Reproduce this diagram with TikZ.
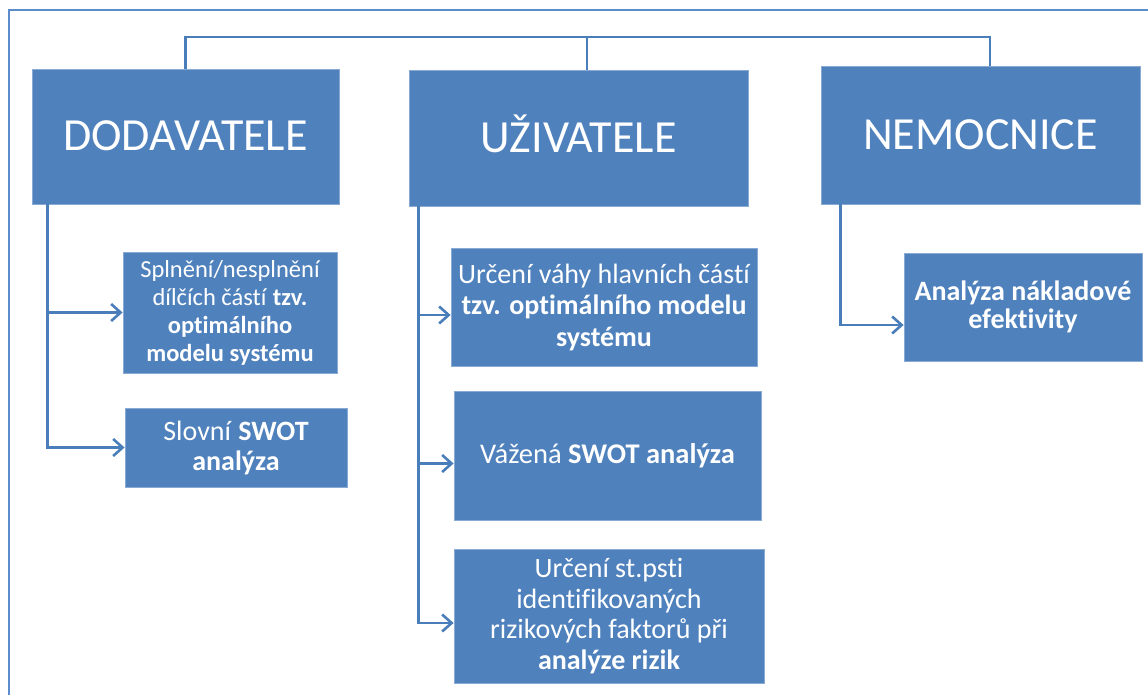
\documentclass[tikz,border=0pt]{standalone}
\usepackage{fontspec}
\setmainfont{Carlito}[Ligatures={NoCommon}]
\usetikzlibrary{arrows.meta}
\definecolor{boxblue}{HTML}{4F81BD}
\definecolor{boxedge}{HTML}{8AAAD6}
\definecolor{linkblue}{HTML}{4A7EBB}
\definecolor{framecol}{HTML}{5B8CCB}
\tikzset{
  box/.style={rectangle, fill=boxblue, draw=boxedge, line width=0.8pt, text=white, inner sep=0pt, align=center},
  hdr/.style={box, font=\fontsize{46pt}{52pt}\selectfont, text height=29pt, text depth=0pt},
  conn/.style={draw=linkblue, line width=2.6pt},
  arr/.style={conn, -{Straight Barb[length=9.5pt,width=17pt,line width=2.6pt]}},
}
\begin{document}
\begin{tikzpicture}[x=1pt,y=-1pt]
\useasboundingbox (0,0) rectangle (1148,695);
\draw[framecol, line width=2pt] (9,700) |- (1153,10);
% headers
\node[hdr, minimum width=307pt, minimum height=135pt] (dod) at (185.5,136.5) {DODAVATELE};
\node[hdr, minimum width=339pt, minimum height=136pt] (uzi) at (578.5,138) {UŽIVATELE};
\node[hdr, minimum width=319pt, minimum height=138pt] (nem) at (980.5,135) {NEMOCNICE};
% sub boxes
\node[box, minimum width=214pt, minimum height=121pt, font=\fontsize{24.5pt}{28pt}\selectfont] (d1) at (230,312.5)
  {Splnění/nesplnění\\dílčích částí \textbf{tzv.}\\\textbf{optimálního}\\\textbf{modelu systému}};
\node[box, minimum width=222pt, minimum height=79pt, font=\fontsize{28pt}{30pt}\selectfont] (d2) at (236,447.5)
  {Slovní \textbf{SWOT}\\\textbf{analýza}};
\node[box, minimum width=306pt, minimum height=118pt, font=\fontsize{28pt}{31.5pt}\selectfont] (u1) at (604,307)
  {Určení váhy hlavních částí\\\textbf{tzv. optimálního modelu}\\\textbf{systému}};
\node[box, minimum width=307pt, minimum height=129pt, font=\fontsize{28.5pt}{31pt}\selectfont] (u2) at (607.5,455.5)
  {Vážená \textbf{SWOT analýza}};
\node[box, minimum width=310pt, minimum height=134pt, font=\fontsize{28pt}{30.5pt}\selectfont] (u3) at (609,616)
  {Určení st.psti\\identifikovaných\\rizikových faktorů při\\\textbf{analýze rizik}};
\node[box, minimum width=238pt, minimum height=108pt, font=\fontsize{28pt}{28.5pt}\selectfont] (n1) at (1023,307)
  {\textbf{Analýza nákladové}\\\textbf{efektivity}};
% top bus
\coordinate (bus) at (0,37);
\draw[conn] (dod.north) |- ([xshift=9.5pt]nem.north |- bus) -- ([xshift=9.5pt]nem.north);
\draw[conn] ([xshift=8.5pt]uzi.north) -- ([xshift=8.5pt]uzi.north |- bus);
% spines and arrows
\draw[arr] ([xshift=16pt]dod.south west) |- (d1.west);
\draw[arr] ([xshift=16pt]dod.south west) |- (d2.west);
\draw[arr] ([xshift=10pt]uzi.south west) |- ([yshift=-8pt]u1.west);
\draw[arr] ([xshift=10pt]uzi.south west) |- ([yshift=-8pt]u2.west);
\draw[arr] ([xshift=10pt]uzi.south west) |- ([yshift=-7pt]u3.west);
\draw[arr] ([xshift=20pt]nem.south west) |- ([yshift=-18pt]n1.west);
\end{tikzpicture}
\end{document}
